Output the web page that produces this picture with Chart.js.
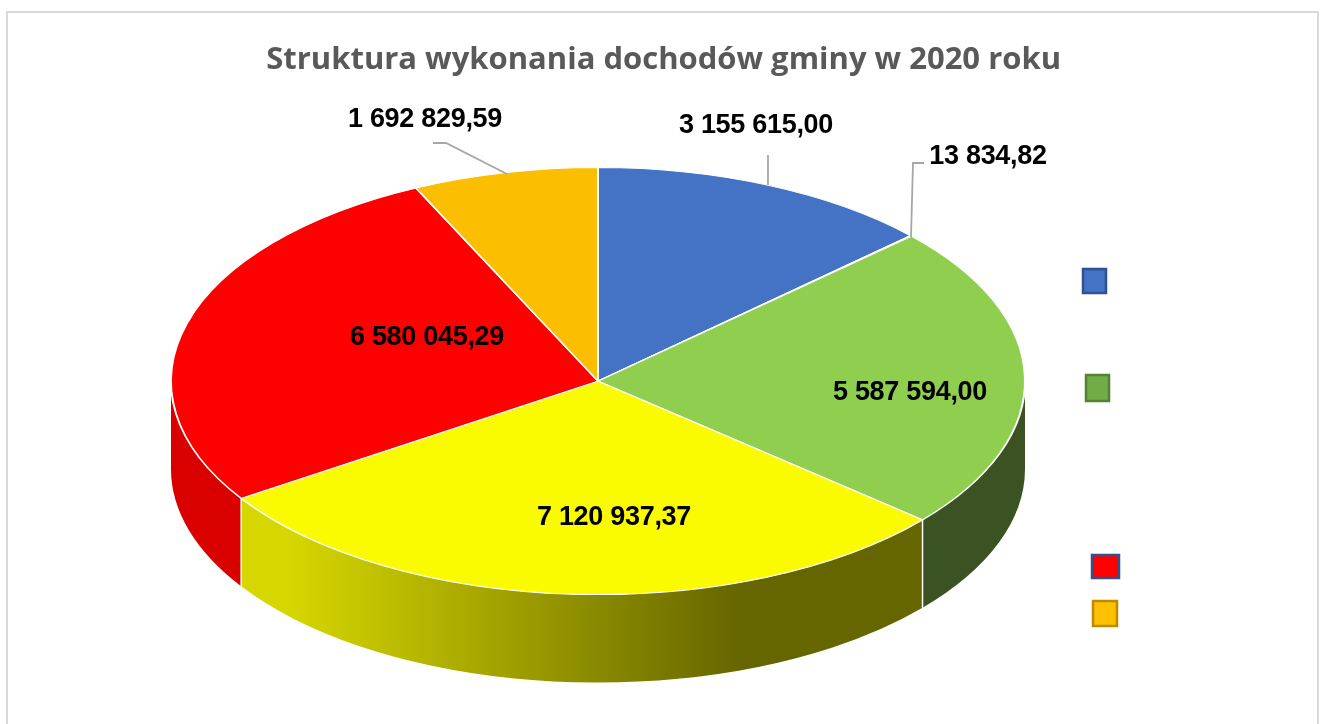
<!DOCTYPE html>
<html lang="pl">
<head>
<meta charset="utf-8">
<title>Struktura wykonania dochodów gminy w 2020 roku</title>
<script src="https://cdn.jsdelivr.net/npm/chart.js@4/dist/chart.umd.min.js"></script>
<style>
  html, body { margin: 0; padding: 0; background: #fff; }
  canvas { display: block; }
</style>
</head>
<body>
<canvas id="wykres" width="1320" height="724"></canvas>
<script>
// ── DANE ──
var tytul = 'Struktura wykonania dochodów gminy w 2020 roku';
var wartosci = [3155615.00, 13834.82, 5587594.00, 7120937.37, 6580045.29, 1692829.59];
var kolory = ['#4472c4', '#ffffff', '#90ce50', '#fbfb00', '#fd0000', '#fcbe00'];
var koloryBoku = ['#2f528f', '#ffffff', '#3b5323', null, '#d90000', '#bc8c00'];

// ── UKŁAD ──
var SPLASZCZENIE = 0.5;
var GLEBOKOSC = 88;
var pozEtykiet = [[756,126],[988,157],[910,393],[614,518],[427,338],[425,120]];
var odnosniki = [
  [[768,155],[768,185]],
  [[924,163],[913,163],[911,237]],
  [[433,143],[446,143],[507,174]]
];
var legenda = [
  {x:1083, y:269, w:23, h:24, fill:'#4472c4', stroke:'#2f528f'},
  {x:1086, y:375, w:23, h:26, fill:'#70ad47', stroke:'#548235'},
  {x:1092, y:555, w:27, h:23, fill:'#ff0000', stroke:'#2f528f'},
  {x:1093, y:601, w:24, h:25, fill:'#ffc000', stroke:'#bc8c00'}
];

function fmtPL(v) {
  var p = v.toFixed(2).split('.');
  return p[0].replace(/\B(?=(\d{3})+$)/g, ' ') + ',' + p[1];
}

// bok walca + spłaszczenie koła, etykiety i legenda
var pie3d = {
  id: 'pie3d',
  beforeDraw: function(chart) {
    var c = chart.ctx;
    c.save();
    c.strokeStyle = '#d9d9d9';
    c.lineWidth = 2;
    c.strokeRect(7, 12, 1311, 730);
    c.restore();
  },
  beforeDatasetsDraw: function(chart) {
    var c = chart.ctx;
    var arcs = chart.getDatasetMeta(0).data;
    var x0 = arcs[0].x, y0 = arcs[0].y, r = arcs[0].outerRadius;

    var grad = c.createLinearGradient(290, 0, 740, 0);
    grad.addColorStop(0, '#d6d600');
    grad.addColorStop(1, '#666600');

    arcs.forEach(function(a, i) {
      var a0 = Math.max(a.startAngle, 0);
      var a1 = Math.min(a.endAngle, Math.PI);
      if (a1 <= a0) return;
      c.beginPath();
      c.ellipse(x0, y0, r, r * SPLASZCZENIE, 0, a0, a1);
      c.ellipse(x0, y0 + GLEBOKOSC, r, r * SPLASZCZENIE, 0, a1, a0, true);
      c.closePath();
      c.fillStyle = koloryBoku[i] || grad;
      c.fill();
      // biała linia między bokami
      if (a0 > 0) {
        var sx = x0 + r * Math.cos(a0), sy = y0 + r * SPLASZCZENIE * Math.sin(a0);
        c.beginPath();
        c.moveTo(sx, sy);
        c.lineTo(sx, sy + GLEBOKOSC);
        c.strokeStyle = '#ffffff';
        c.lineWidth = 1.5;
        c.stroke();
      }
    });

    c.save();
    c.translate(x0, y0);
    c.scale(1, SPLASZCZENIE);
    c.translate(-x0, -y0);
  },
  afterDatasetsDraw: function(chart) {
    chart.ctx.restore();
  },
  afterDraw: function(chart) {
    var c = chart.ctx;
    c.save();
    c.strokeStyle = '#a6a6a6';
    c.lineWidth = 1.8;
    odnosniki.forEach(function(l) {
      c.beginPath();
      l.forEach(function(p, i) { if (i) c.lineTo(p[0], p[1]); else c.moveTo(p[0], p[1]); });
      c.stroke();
    });

    c.font = 'bold 27px "Liberation Sans", Arial, sans-serif';
    c.letterSpacing = '-0.3px';
    c.fillStyle = '#000000';
    c.textAlign = 'center';
    c.textBaseline = 'middle';
    wartosci.forEach(function(v, i) {
      c.fillText(fmtPL(v), pozEtykiet[i][0], pozEtykiet[i][1]);
    });

    legenda.forEach(function(k) {
      c.fillStyle = k.fill;
      c.fillRect(k.x, k.y, k.w, k.h);
      c.strokeStyle = k.stroke;
      c.lineWidth = 2.5;
      c.strokeRect(k.x, k.y, k.w, k.h);
    });
    c.restore();
  }
};

new Chart(document.getElementById('wykres'), {
  type: 'pie',
  data: {
    labels: wartosci.map(fmtPL),
    datasets: [{
      data: wartosci,
      backgroundColor: kolory,
      borderColor: '#ffffff',
      borderWidth: 2,
      clip: false
    }]
  },
  options: {
    responsive: false,
    animation: false,
    events: [],
    radius: 427,
    // asymetria: środek koła w x=598, tytuł kończy się na x=1061
    layout: { padding: { left: 135, right: 259, top: 0, bottom: 49 } },
    plugins: {
      legend: { display: false },
      tooltip: { enabled: false },
      title: {
        display: true,
        text: tytul,
        align: 'end',
        color: '#595959',
        font: { family: '"Open Sans"', size: 31, weight: 'bold' },
        padding: { top: 42, bottom: 8 }
      }
    }
  },
  plugins: [pie3d]
});
</script>
</body>
</html>
